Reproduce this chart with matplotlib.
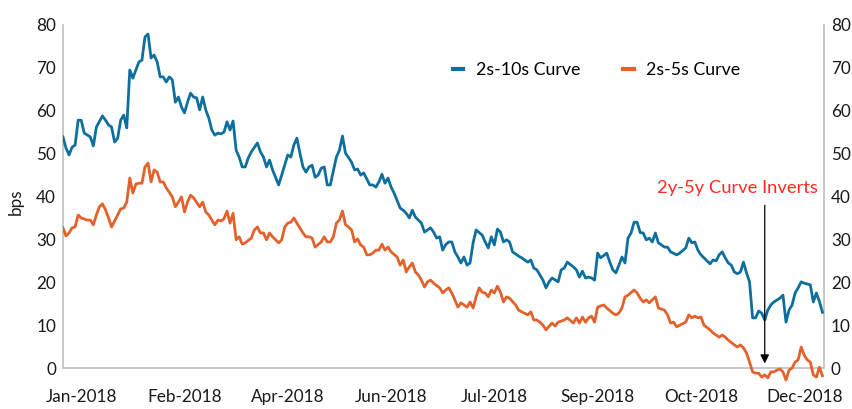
import matplotlib
matplotlib.use("Agg")
import matplotlib.pyplot as plt

plt.rcParams['font.family'] = ['Lato', 'DejaVu Sans']
plt.rcParams['font.size'] = 12

# trading-day index (0 = first session of 2018) and curve spread in bps
blue_day = [0, 1, 2, 3, 4, 5, 6, 7, 9, 10, 11, 13, 14, 15, 16, 17, 18, 19, 20, 21,
            22, 23, 24, 25, 26, 27, 28, 29, 30, 31, 32, 33, 34, 35, 36, 37, 38, 39, 40, 41,
            42, 43, 44, 45, 46, 47, 48, 49, 50, 51, 52, 53, 54, 55, 56, 57, 58, 59, 60, 61,
            62, 64, 65, 66, 67, 68, 69, 71, 72, 74, 75, 76, 77, 78, 79, 80, 81, 82, 83, 84,
            85, 86, 87, 88, 90, 91, 92, 93, 94, 95, 96, 97, 98, 99, 101, 102, 103, 104, 105, 106,
            107, 108, 109, 111, 112, 113, 114, 115, 116, 117, 118, 119, 120, 121, 122, 123, 124, 125, 126, 127,
            128, 129, 130, 131, 132, 133, 134, 135, 136, 138, 139, 140, 141, 142, 143, 144, 145, 146, 147, 148,
            150, 151, 153, 154, 155, 156, 157, 158, 159, 160, 161, 163, 164, 165, 166, 168, 169, 170, 171, 172,
            173, 174, 175, 176, 177, 179, 180, 181, 182, 183, 184, 185, 186, 187, 188, 189, 190, 191, 192, 193,
            194, 195, 196, 198, 199, 200, 202, 203, 205, 206, 207, 208, 209, 210, 211, 213, 214, 215, 216, 217,
            218, 219, 220, 221, 222, 223, 224, 225, 226, 227, 228, 229, 230, 231, 232, 233, 234, 236, 237, 238,
            239, 240, 241, 242, 243, 244, 246, 247, 248, 249, 250]
blue_bps = [53.9, 51.3, 49.7, 51.5, 52.0, 57.8, 57.8, 54.8, 53.9, 51.8, 56.2, 58.8, 57.8, 56.7, 56.2, 52.7, 53.6, 57.8, 59.0, 56.0,
            69.5, 67.6, 69.5, 71.4, 71.8, 77.2, 77.9, 72.3, 73.0, 71.4, 67.9, 67.9, 66.7, 67.9, 67.2, 62.0, 63.2, 60.9, 59.5, 62.0,
            64.1, 63.2, 63.0, 60.2, 63.2, 60.2, 58.3, 55.5, 54.3, 54.8, 54.6, 55.0, 57.4, 55.5, 57.6, 50.8, 49.2, 46.9, 46.9, 49.0,
            50.4, 52.5, 50.4, 49.2, 46.9, 48.5, 46.2, 42.7, 45.0, 49.7, 49.2, 52.0, 53.6, 50.1, 46.9, 45.7, 46.9, 47.3, 44.5, 45.0,
            46.6, 46.9, 42.7, 42.7, 49.2, 50.8, 54.1, 50.1, 49.1, 48.0, 46.2, 46.4, 45.0, 45.5, 42.7, 42.7, 42.2, 43.4, 45.2, 43.1,
            44.3, 42.2, 40.8, 37.3, 36.8, 36.1, 35.0, 36.8, 35.2, 34.5, 33.8, 31.7, 32.2, 32.7, 31.7, 30.3, 30.6, 27.5, 28.8, 29.4,
            29.4, 27.1, 25.9, 24.5, 25.9, 24.0, 24.5, 29.2, 32.2, 31.0, 29.4, 28.0, 30.6, 28.7, 32.4, 31.7, 29.4, 29.9, 29.4, 27.1,
            26.1, 25.7, 24.7, 25.2, 23.3, 22.9, 21.7, 20.5, 18.7, 20.1, 21.0, 20.1, 22.9, 23.3, 24.7, 23.6, 22.9, 21.2, 22.6, 21.0,
            21.2, 21.0, 20.5, 26.8, 25.7, 26.8, 24.7, 22.9, 22.2, 24.0, 25.9, 24.5, 30.3, 31.5, 34.0, 34.0, 31.6, 31.5, 29.9, 30.3,
            29.4, 31.5, 29.2, 28.2, 28.2, 27.1, 26.4, 26.8, 28.0, 30.3, 29.2, 29.4, 27.5, 26.4, 25.7, 24.3, 25.2, 25.0, 26.4, 27.1,
            25.7, 24.5, 24.0, 22.4, 22.0, 22.4, 24.7, 22.2, 20.1, 11.7, 11.7, 13.3, 12.8, 11.2, 13.5, 14.7, 15.4, 16.3, 17.0, 10.7,
            13.5, 14.7, 17.5, 18.7, 20.1, 19.8, 19.4, 15.4, 17.5, 15.5, 13.0]

orange_day = [0, 1, 2, 3, 4, 5, 6, 8, 9, 10, 11, 12, 13, 14, 15, 16, 18, 19, 20, 21,
              22, 23, 24, 25, 26, 27, 28, 29, 30, 31, 32, 33, 34, 35, 36, 37, 38, 39, 40, 41,
              42, 43, 45, 46, 47, 48, 49, 50, 51, 52, 53, 54, 55, 56, 57, 58, 59, 60, 62, 63,
              64, 65, 66, 67, 68, 69, 71, 72, 73, 74, 75, 76, 77, 79, 80, 81, 82, 83, 85, 86,
              87, 88, 89, 90, 91, 92, 93, 94, 95, 96, 97, 98, 99, 100, 101, 102, 103, 104, 105, 106,
              107, 108, 110, 111, 112, 113, 114, 115, 116, 117, 118, 119, 120, 121, 122, 124, 125, 126, 127, 128,
              129, 130, 131, 133, 134, 135, 136, 137, 138, 139, 140, 141, 142, 143, 144, 145, 146, 147, 149, 150,
              151, 153, 154, 155, 156, 157, 158, 159, 161, 162, 163, 165, 166, 168, 169, 170, 171, 172, 173, 174,
              175, 176, 177, 178, 179, 181, 182, 183, 184, 185, 186, 188, 189, 190, 191, 192, 193, 194, 195, 196,
              198, 199, 200, 201, 202, 203, 205, 206, 207, 208, 209, 210, 211, 213, 214, 216, 217, 218, 219, 221,
              222, 223, 224, 225, 226, 227, 228, 229, 230, 231, 232, 233, 234, 235, 236, 237, 238, 239, 240, 241,
              242, 243, 244, 245, 246, 247, 248, 249, 250]
orange_bps = [32.7, 30.8, 31.5, 32.7, 32.9, 35.7, 35.0, 34.5, 34.5, 33.4, 35.7, 37.6, 38.3, 36.9, 35.0, 32.9, 35.7, 37.1, 37.3, 38.7,
              44.3, 40.8, 42.9, 43.1, 43.1, 46.9, 47.8, 43.4, 46.2, 45.7, 43.4, 43.4, 42.0, 41.0, 39.9, 37.6, 38.7, 39.9, 36.4, 38.7,
              40.3, 39.7, 37.6, 38.7, 36.4, 35.7, 34.5, 33.4, 34.5, 34.3, 34.8, 36.6, 33.8, 36.1, 29.9, 30.6, 28.9, 29.2, 30.3, 32.2,
              32.9, 31.5, 31.5, 29.9, 31.5, 30.6, 29.2, 29.9, 32.9, 33.8, 34.0, 35.0, 33.8, 31.5, 30.6, 30.6, 30.3, 28.2, 29.4, 30.6,
              29.4, 29.4, 30.6, 33.8, 34.5, 36.6, 33.4, 32.9, 32.2, 29.4, 30.1, 28.7, 28.2, 26.4, 26.4, 26.8, 27.5, 27.5, 28.9, 27.5,
              28.2, 27.1, 25.9, 24.0, 25.2, 22.4, 23.6, 24.5, 22.4, 21.7, 20.5, 18.9, 20.1, 20.5, 19.8, 18.7, 17.5, 18.2, 18.7, 17.5,
              15.9, 14.2, 15.2, 14.2, 15.4, 14.0, 16.6, 18.7, 17.7, 17.5, 16.6, 18.2, 17.5, 19.1, 17.7, 15.4, 16.6, 16.3, 14.7, 13.5,
              13.1, 12.4, 13.1, 11.2, 11.2, 10.7, 10.0, 8.9, 10.5, 9.8, 10.7, 11.2, 11.7, 10.5, 11.7, 10.5, 11.9, 10.7, 11.7, 12.1,
              10.7, 14.2, 14.5, 14.7, 14.0, 12.8, 12.4, 12.8, 14.0, 16.6, 17.0, 18.2, 17.5, 16.3, 15.4, 15.9, 15.2, 15.9, 16.6, 14.0,
              13.5, 12.4, 10.5, 10.7, 9.6, 10.0, 10.7, 12.4, 11.7, 12.1, 11.7, 11.9, 10.0, 8.9, 8.2, 7.2, 7.7, 7.2, 6.5, 5.4,
              4.9, 5.4, 4.7, 3.5, 1.4, -0.9, -1.2, -1.2, -2.1, -1.6, -2.3, -0.9, -0.9, -0.5, -0.2, -0.9, -2.8, -0.5, 0.0, 1.4,
              1.9, 4.9, 3.0, 1.9, 1.4, -1.6, -2.1, 0.2, -1.8]

tick_day = [6, 40, 74, 108, 142, 176, 210, 244]
tick_labels = ['Jan-2018', 'Feb-2018', 'Apr-2018', 'Jun-2018', 'Jul-2018', 'Sep-2018', 'Oct-2018', 'Dec-2018']
yticks = [0, 10, 20, 30, 40, 50, 60, 70, 80]

blue = '#0e6f9e'
orange = '#e3612b'
grey = '#bfbfbf'

fig = plt.figure(figsize=(8.52, 4.09), dpi=100)
ax = fig.add_axes([0.0739, 0.0582, 0.8932, 0.8807])

ax.plot(blue_day, blue_bps, color=blue, lw=2.0, label='2s-10s Curve', zorder=3)
ax.plot(orange_day, orange_bps, color=orange, lw=2.0, label='2s-5s Curve', zorder=3)
ax.axhline(0, color=grey, lw=1.2, zorder=1)

ax.set_xlim(0, 250.5)
ax.set_ylim(-4, 80)
ax.set_yticks(yticks)
ax.set_xticks(tick_day)
ax.set_xticklabels(tick_labels)
ax.tick_params(axis='both', length=0, labelsize=12.3, colors='#1a1a1a')
ax.tick_params(axis='y', pad=5, labelright=True)
ax.tick_params(axis='x', pad=3)

for s in ['top', 'bottom']:
    ax.spines[s].set_visible(False)
for s in ['left', 'right']:
    ax.spines[s].set_color(grey)
    ax.spines[s].set_linewidth(1.2)
    ax.spines[s].set_bounds(0, 80)

ax.set_ylabel('bps', fontsize=12.3, color='#1a1a1a')
ax.yaxis.set_label_coords(-0.052, 0.51)

leg = ax.legend(loc='center', bbox_to_anchor=(0.70, 0.829), bbox_transform=fig.transFigure,
                ncol=2, frameon=False, fontsize=12.8, handlelength=0.6,
                handletextpad=0.7, columnspacing=2.4)
for line in leg.get_lines():
    line.set_linewidth(3)

ax.annotate('', xy=(231, 0.4), xytext=(231, 38.6),
            arrowprops=dict(arrowstyle='-|>', color='black', lw=0.9, mutation_scale=13))
ax.text(222, 42.0, '2y-5y Curve Inverts', color='#ff2a1f', fontsize=13.2, ha='center', va='center')

fig.savefig('out.png', dpi=100)
